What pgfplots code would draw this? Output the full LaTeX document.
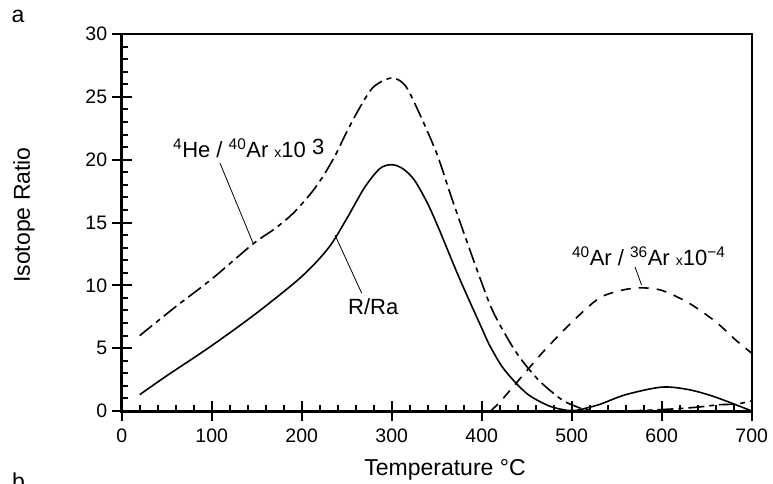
\documentclass[border=0pt]{standalone}
\usepackage{pgfplots}
\pgfplotsset{compat=1.18}
\usepackage{fontspec}
\setmainfont{Liberation Sans}
\newcommand\annot{\fontsize{22}{24}\selectfont}
\newcommand\sm{\fontsize{14}{14}\selectfont}
\begin{document}
\begin{tikzpicture}
\useasboundingbox (-121.7pt,-72pt) rectangle (651.3pt,411pt);
\begin{axis}[
  scale only axis, width=630pt, height=377pt,
  xmin=0, xmax=700, ymin=0, ymax=30,
  xtick={0,100,200,300,400,500,600,700},
  ytick={0,5,10,15,20,25,30},
  minor x tick num=4, minor y tick num=4,
  xtick pos=left, ytick pos=left,
  tick align=center,
  major tick length=20pt, minor tick length=6pt,
  tick style={black, line width=2pt},
  minor x tick style={yshift=3pt},
  minor y tick style={xshift=3pt},
  axis line style={line width=2pt},
  /pgf/number format/assume math mode=true,
  ticklabel style={font=\fontsize{19.5}{20}\selectfont},
  xticklabel style={yshift=-4pt},
  yticklabel style={xshift=-1pt},
  clip=false,
]
% R/Ra (solid)
\addplot[black, line width=1.6pt, smooth] coordinates {
(20,1.3) (50,2.8) (100,5.2) (150,7.8) (200,10.7) (230,13.0) (250,15.3)
(270,17.8) (287,19.3) (300,19.6) (312,19.3) (325,18.4) (340,16.5) (353,14.4)
(375,10.6) (400,6.6) (409,5.2) (425,3.3) (450,1.4) (475,0.4) (495,0.05)
(505,0.05) (530,0.5) (560,1.3) (600,1.9) (630,1.7) (660,1.1) (700,0.0)
};
% 4He/40Ar x10^3 (long dash - short dash)
\addplot[black, line width=1.6pt, smooth, dash pattern=on 16pt off 5pt on 5pt off 5pt] coordinates {
(20,6.0) (60,8.3) (100,10.5) (146,13.3) (170,14.5) (190,15.7) (210,17.3)
(223,18.6) (237,20.3) (250,22.2) (265,24.2) (280,25.8) (300,26.5) (315,25.9) (330,23.8)
(350,20.5) (365,17.3) (380,14.2) (398,10.6) (412,8.0) (431,5.5) (445,4.0)
(464,2.4) (487,1.0) (500,0.5) (520,0.05) (560,0.0) (609,0.15) (639,0.3)
(664,0.5) (683,0.55) (700,0.8)
};
% 40Ar/36Ar x10^-4 (dashed)
\addplot[black, line width=1.6pt, smooth, dash pattern=on 10pt off 8pt] coordinates {
(410,0.0) (420,0.7) (431,1.6) (450,3.2) (472,5.0) (505,7.4) (531,9.0)
(555,9.6) (576,9.8) (600,9.6) (630,8.6) (660,7.1) (683,5.6) (700,4.6)
};
% leaders
\draw[line width=0.8pt] (axis cs:109.2,19.73) -- (axis cs:145.9,13.37);
\draw[line width=0.8pt] (axis cs:237,14.0) -- (axis cs:266.7,9.37);
\draw[line width=0.8pt] (axis cs:570.3,11.47) -- (axis cs:577.6,10.03);
% annotations
\node[anchor=base west, inner sep=0, font=\annot] at (axis cs:57,20.2)
  {\textsuperscript{4}He / \textsuperscript{40}Ar {\sm x}10 \raisebox{3pt}{3}};
\node[anchor=base west, inner sep=0, font=\annot] at (axis cs:251.4,7.64) {R/Ra};
\node[anchor=base west, inner sep=0, font=\annot] at (axis cs:500.3,11.6)
  {\textsuperscript{40}Ar / \textsuperscript{36}Ar {\sm x}10\textsuperscript{−4}};
% thicker left and bottom axis lines
\draw[line width=3pt] (rel axis cs:0,1) -- (rel axis cs:0,0) -- (rel axis cs:1,0);
\end{axis}
\node[font=\fontsize{23}{24}\selectfont] at (-103.7pt,395pt) {a};
\node[rotate=90, anchor=base, inner sep=0, font=\fontsize{23}{24}\selectfont] at (-91.7pt,196pt) {Isotope Ratio};
\node[anchor=base, inner sep=0, font=\fontsize{23}{24}\selectfont] at (323.3pt,-64pt) {Temperature °C};
\node[anchor=north west, inner sep=0, font=\fontsize{23}{24}\selectfont] at (-109.7pt,-62pt) {b};
\end{tikzpicture}
\end{document}
